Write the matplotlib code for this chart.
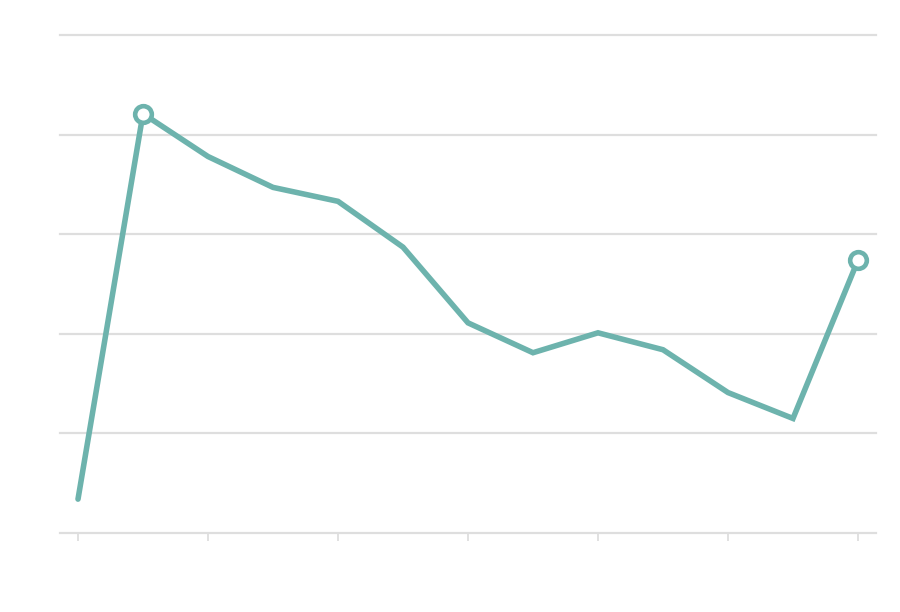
import matplotlib
matplotlib.use("Agg")
import matplotlib.pyplot as plt

# Values (no labels are shown in it)
x_idx = list(range(13))
values = [3.4, 42.1, 37.8, 34.7, 33.3, 28.7, 21.1, 18.1, 20.1, 18.4, 14.1, 11.5, 27.4]
grid_levels = [10, 20, 30, 40, 50]
tick_idx = [0, 2, 4, 6, 8, 10, 12]
marked_idx = [1, 12]

LINE = "#6db3ad"
GRID = "#dedede"

fig = plt.figure(figsize=(9, 6.12), dpi=100)
ax = fig.add_axes([60 / 900, 79 / 612, 816 / 900, 498 / 612])

for g in grid_levels:
    ax.axhline(g, color=GRID, lw=1.6, zorder=0, clip_on=False)

ax.plot(x_idx, values, color=LINE, lw=4, solid_capstyle="round",
        solid_joinstyle="miter", zorder=3, clip_on=False)
ax.plot([x_idx[i] for i in marked_idx], [values[i] for i in marked_idx],
        "o", ms=12, mfc="white", mec=LINE, mew=3.3, zorder=4, clip_on=False)

ax.set_xlim(-18 / 65, 12 + 18 / 65)
ax.set_ylim(0, 50)

for s in ("top", "right", "left"):
    ax.spines[s].set_visible(False)
ax.spines["bottom"].set_color(GRID)
ax.spines["bottom"].set_linewidth(1.6)

ax.set_xticks(tick_idx)
ax.set_xticklabels([])
ax.set_yticks([])
ax.tick_params(axis="x", length=6, width=1.3, color=GRID)

fig.savefig("out.png", dpi=100, facecolor="white")
